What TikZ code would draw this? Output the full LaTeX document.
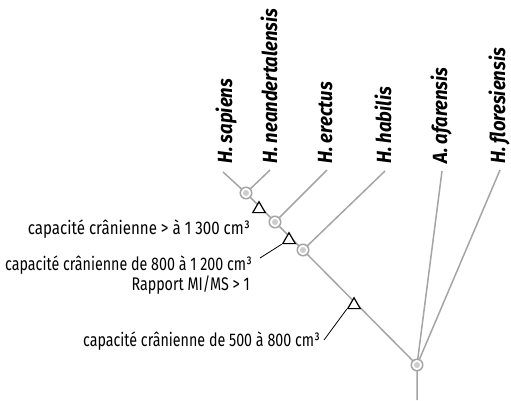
\documentclass[tikz,border=0pt]{standalone}
\usepackage{fontspec}
\setmainfont{Fira Sans}[FakeStretch=0.78]
\newfontfamily\labfont{Fira Sans}[FakeStretch=0.9]
\newfontfamily\widenote{Fira Sans}[FakeStretch=0.825]
\usetikzlibrary{shapes.geometric}
\definecolor{branch}{RGB}{165,165,165}
\definecolor{dotfill}{RGB}{205,205,205}
\tikzset{
  branchline/.style={draw=branch, line width=1.5pt},
  splitnode/.style={circle, draw=branch, line width=1.5pt, fill=white, minimum size=11.5pt, inner sep=0pt,
    path picture={\fill[dotfill] (path picture bounding box.center) circle (3pt);}},
  apo/.style={regular polygon, regular polygon sides=3, draw=black, line width=1.2pt, fill=white, minimum size=14.5pt, inner sep=0pt},
  taxon/.style={rotate=90, anchor=base west, inner sep=0pt, font=\labfont\bfseries\itshape\fontsize{20.5}{24}\selectfont},
  note/.style={anchor=base east, inner sep=0pt, font=\fontsize{18.3}{22}\selectfont},
  leader/.style={draw=black, line width=0.8pt}
}
\begin{document}
\begin{tikzpicture}[x=1pt,y=-1pt]
\useasboundingbox (0,0) rectangle (511,400);
% leaf ends
\coordinate (lsap) at (223,172);
\coordinate (lnea) at (270,170);
\coordinate (lere) at (327,170);
\coordinate (lhab) at (385,171);
\coordinate (lafa) at (442,171);
\coordinate (lflo) at (500,170);
\coordinate (base) at (417,400);
% nodes positions
\coordinate (p1) at (246,193);
\coordinate (p2) at (275,222);
\coordinate (p3) at (303,250);
\coordinate (p0) at (417,365);
% branches
\draw[branchline] (lsap) -- (p1) -- (p2) -- (p3) -- (p0) -- (base);
\draw[branchline] (p1) -- (lnea);
\draw[branchline] (p2) -- (lere);
\draw[branchline] (p3) -- (lhab);
\draw[branchline] (p0) -- (lafa);
\draw[branchline] (p0) -- (lflo);
% split nodes
\node[splitnode] (n1) at (p1) {};
\node[splitnode] (n2) at (p2) {};
\node[splitnode] (n3) at (p3) {};
\node[splitnode] (n0) at (p0) {};
% apomorphy triangles
\node[apo] (t1) at (259,209) {};
\node[apo] (t2) at (289,240) {};
\node[apo] (t3) at (354,305) {};
% taxa
\node[taxon] (sap) at (232,164) {H. sapiens};
\node[taxon] (nea) at (277,164) {H. neandertalensis};
\node[taxon] (ere) at (332,164) {H. erectus};
\node[taxon] (hab) at (391,164) {H. habilis};
\node[taxon] (afa) at (447,164) {A. afarensis};
\node[taxon] (flo) at (505,164) {H. floresiensis};
% notes
\node[note, font=\widenote\fontsize{18.3}{22}\selectfont] (c1) at (250,234) {capacité crânienne > à 1 300 cm³};
\node[note] (c2) at (252,270) {capacité crânienne de 800 à 1 200 cm³};
\node[note] (c2b) at (250,290) {Rapport MI/MS > 1};
\node[note] (c3) at (320,346) {capacité crânienne de 500 à 800 cm³};
% leaders
\coordinate (a2) at (260,258);
\coordinate (a3) at (324,340);
\draw[leader] (a2) -- (t2.corner 2);
\draw[leader] (a3) -- (t3.corner 2);
\end{tikzpicture}
\end{document}
